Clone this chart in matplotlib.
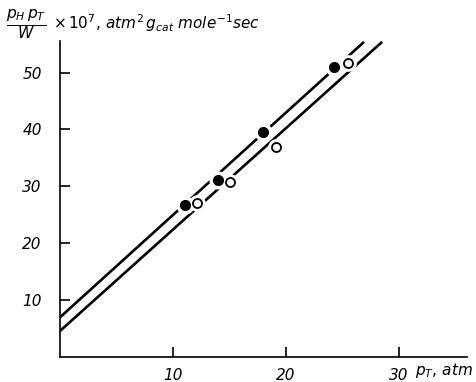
import numpy as np
import matplotlib.pyplot as plt

# data
pt_filled = [11.1, 14.0, 18.0, 24.2]
rate_filled = [26.7, 31.2, 39.5, 50.9]
pt_open = [12.1, 15.0, 19.1, 25.5]
rate_open = [27.0, 30.7, 37.0, 51.7]

line_upper_x = [0, 26.9]
line_upper_y = [7.0, 55.4]
line_lower_x = [0, 28.5]
line_lower_y = [4.6, 55.4]

xticks = [10, 20, 30]
yticks = [10, 20, 30, 40, 50]

plt.rcParams['mathtext.fontset'] = 'dejavusans'
plt.rcParams['mathtext.default'] = 'it'

fig = plt.figure(figsize=(4.76, 3.82), dpi=100)
ax = fig.add_axes([0.126, 0.065, 0.855, 0.827])

ax.plot(line_upper_x, line_upper_y, color='black', lw=1.9, solid_capstyle='butt')
ax.plot(line_lower_x, line_lower_y, color='black', lw=1.9, solid_capstyle='butt')

# white halo so the lines look broken around the points
ax.plot(pt_filled, rate_filled, 'o', ms=12, color='white', zorder=3)
ax.plot(pt_open, rate_open, 'o', ms=11, color='white', zorder=3)
ax.plot(pt_filled, rate_filled, 'o', ms=7, color='black', zorder=4)
ax.plot(pt_open, rate_open, 'o', ms=6.5, mfc='white', mec='black', mew=1.3, zorder=4)

ax.set_xlim(0, 36)
ax.set_ylim(0, 55.5)
ax.set_xticks(xticks)
ax.set_yticks(yticks)
ax.set_xticklabels([str(t) for t in xticks], fontstyle='italic', fontsize=11)
ax.set_yticklabels([str(t) for t in yticks], fontstyle='italic', fontsize=11)
ax.tick_params(direction='in', length=7, width=1.2, pad=8)
ax.tick_params(axis='y', pad=13)

for s in ['top', 'right']:
    ax.spines[s].set_visible(False)
for s in ['left', 'bottom']:
    ax.spines[s].set_linewidth(1.2)

fig.text(0.012, 0.935, r'$\frac{p_H\,p_T}{W}$', fontsize=16, va='center', ha='left')
fig.text(0.112, 0.94, r'$\times\,10^7,\,atm^2\,g_{cat}\ mole^{-1}sec$', fontsize=11,
         va='center', ha='left')
fig.text(0.872, 0.03, r'$p_T,\,atm$', fontsize=11, va='center', ha='left')

fig.savefig('out.png', dpi=100)
